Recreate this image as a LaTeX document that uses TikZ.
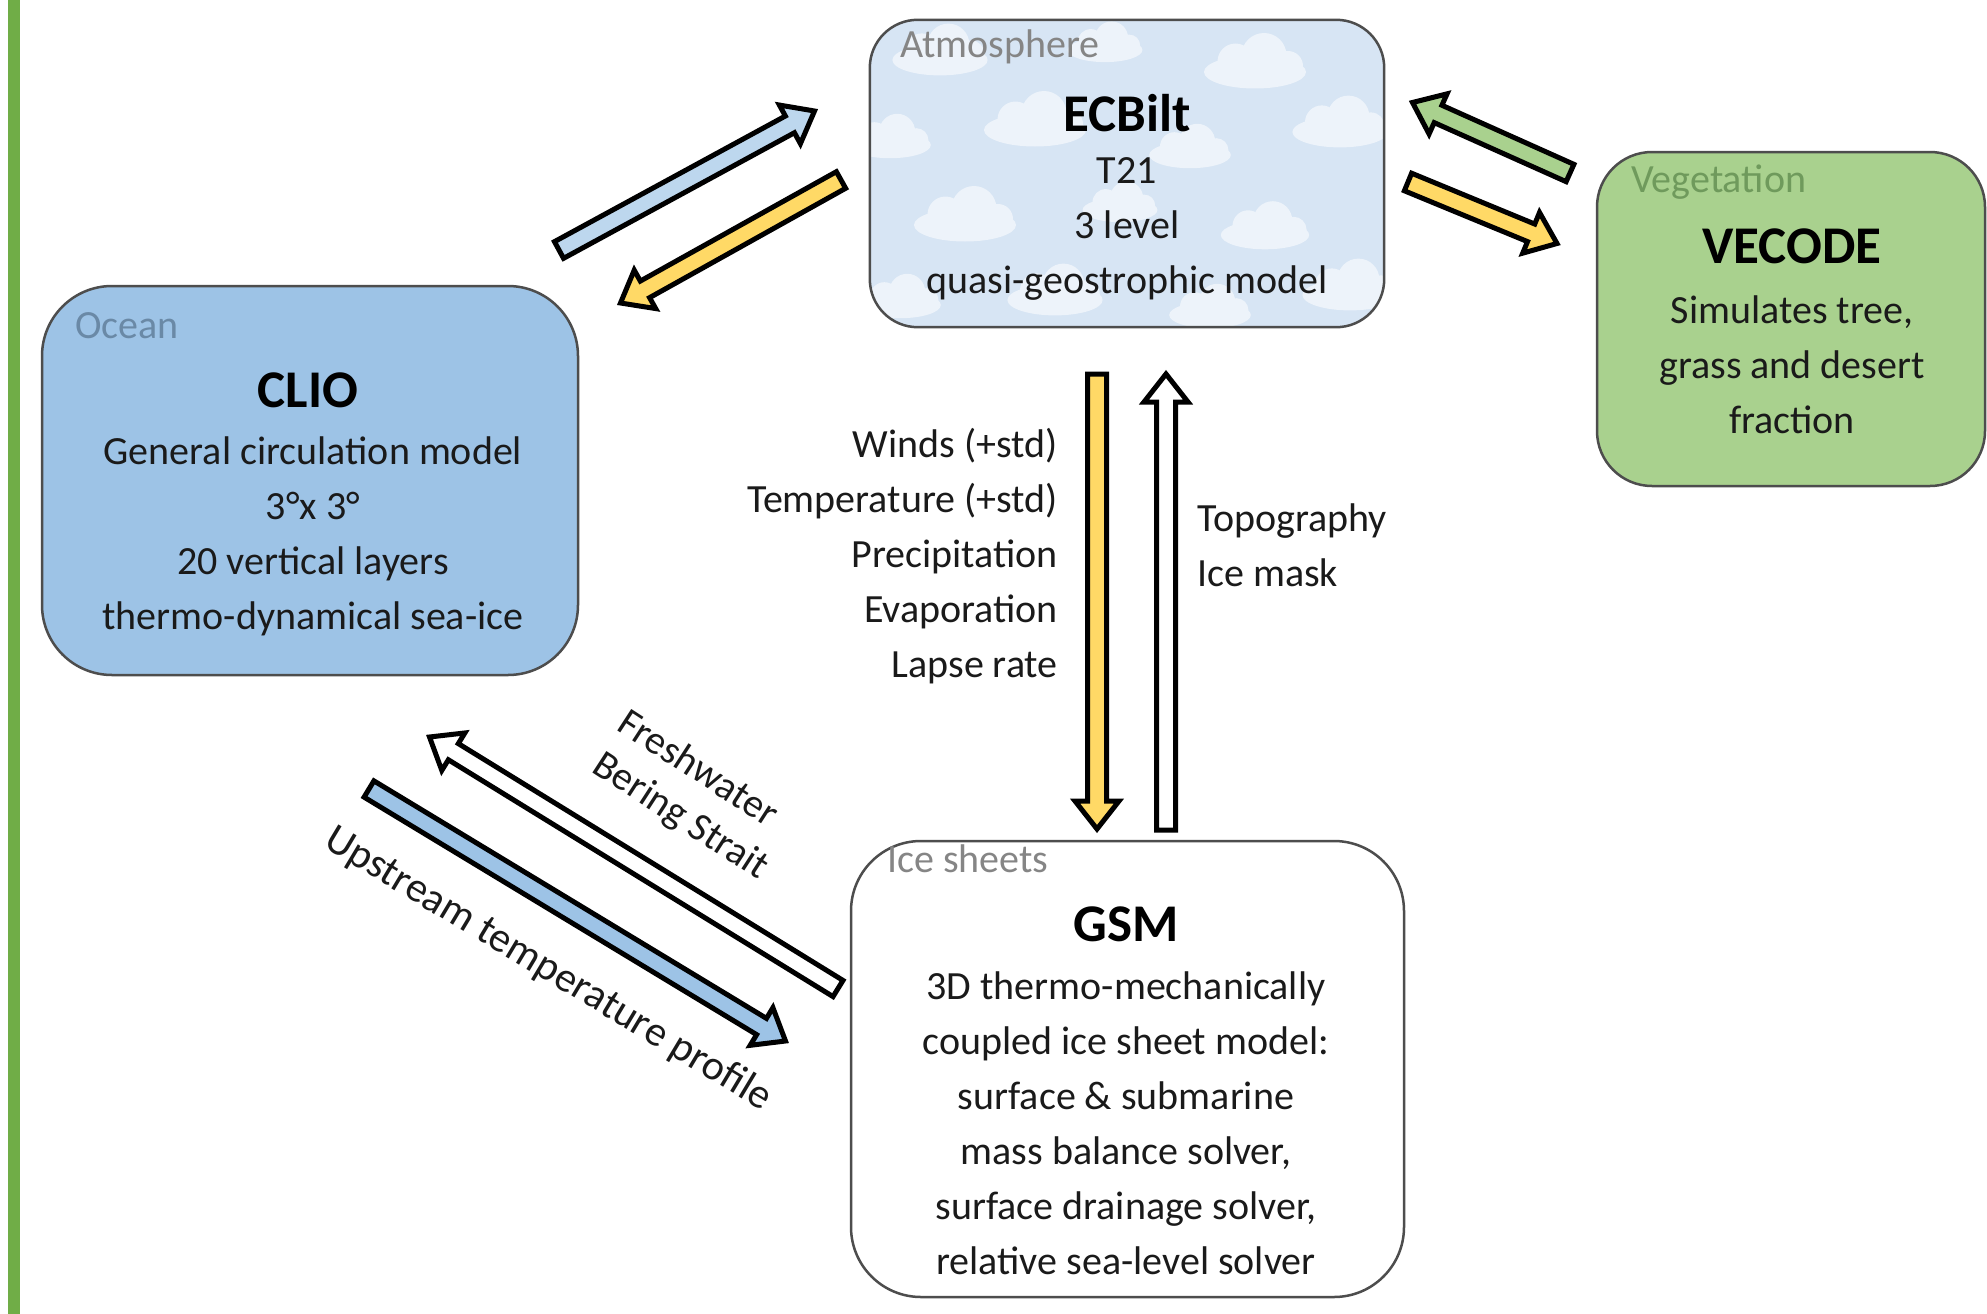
\documentclass[tikz,border=0pt]{standalone}
\usepackage{fontspec}
\setmainfont{Carlito}
\usetikzlibrary{calc}
\definecolor{bargreen}{HTML}{70AD47}
\definecolor{oceanfill}{HTML}{9DC3E6}
\definecolor{vegfill}{HTML}{A9D18E}
\definecolor{atmfill}{HTML}{D7E5F4}
\definecolor{cloudc}{HTML}{EDF3FA}
\definecolor{boxline}{HTML}{4D4D4D}
\definecolor{arryellow}{HTML}{FFD966}
\definecolor{arrblue}{HTML}{BDD7EE}
\definecolor{arrbluetwo}{HTML}{9DC3E6}
\definecolor{arrgreen}{HTML}{A9D18E}
\definecolor{oceanlbl}{HTML}{6A89A6}
\definecolor{veglbl}{HTML}{6F9A5C}
\definecolor{graylbl}{HTML}{858585}
\definecolor{txt}{HTML}{1A1A1A}
\tikzset{
  modelbox/.style={draw=boxline, line width=2.5pt, inner sep=0pt},
  boxlabel/.style={anchor=west, inner sep=0pt, font=\fontsize{40}{48}\selectfont},
  titletext/.style={inner sep=0pt, font=\fontsize{53}{60}\selectfont\bfseries, text=black},
  bodytext/.style={inner sep=0pt, align=center, font=\fontsize{40}{55}\selectfont, text=txt},
  flowtext/.style={inner sep=0pt, font=\fontsize{40}{55}\selectfont, text=txt},
  blockarr/.style={draw=black, line width=5pt, line join=miter, miter limit=10},
}
\newcommand\blockarrow[3]{%
  \coordinate (#1-#2-h) at ($(#2)!28pt!(#1)$);
  \draw[blockarr, fill=#3]
    ($(#1)!9.5pt!90:(#2)$) -- ($(#1-#2-h)!9.5pt!90:(#2)$) -- ($(#1-#2-h)!22pt!90:(#2)$) -- (#2)
    -- ($(#1-#2-h)!22pt!-90:(#2)$) -- ($(#1-#2-h)!9.5pt!-90:(#2)$) -- ($(#1)!9.5pt!-90:(#2)$) -- cycle;}
\newcommand\atmcloud[3]{%
  \fill[cloudc] (870+#1,20+#2) ellipse [x radius=#3*34pt, y radius=#3*11pt];
  \fill[cloudc] (870+#1-#3*13,20+#2-#3*7) circle [radius=#3*12pt];
  \fill[cloudc] (870+#1+#3*6,20+#2-#3*11) circle [radius=#3*15pt];
  \fill[cloudc] (870+#1+#3*22,20+#2-#3*4) circle [radius=#3*10pt];}
\begin{document}
\begin{tikzpicture}[x=1pt,y=-1pt]
\useasboundingbox (0,0) rectangle (1987,1314);
\fill[white] (0,0) rectangle (1987,1314);
\fill[bargreen] (8,0) rectangle (20,1314);

% atmosphere box with clouds
\node[fill=atmfill, inner sep=0pt, rounded corners=48pt, minimum width=514pt, minimum height=307pt] (atm) at (1127,173.5) {};
\begin{scope}
  \clip[rounded corners=48pt] (atm.south west) rectangle (atm.north east);
  \atmcloud{70}{40}{1.4}\atmcloud{235}{30}{1.1}\atmcloud{385}{52}{1.5}
  \atmcloud{20}{125}{1.2}\atmcloud{165}{110}{1.5}\atmcloud{320}{135}{1.2}\atmcloud{470}{112}{1.4}
  \atmcloud{95}{205}{1.5}\atmcloud{250}{190}{1.1}\atmcloud{395}{215}{1.3}
  \atmcloud{30}{285}{1.2}\atmcloud{185}{280}{1.4}\atmcloud{340}{295}{1.2}\atmcloud{480}{275}{1.4}
\end{scope}
\draw[draw=boxline, line width=2.5pt, rounded corners=48pt] (atm.south west) rectangle (atm.north east);

% other boxes
\node[modelbox, fill=oceanfill, rounded corners=70pt, minimum width=536pt, minimum height=389pt] (ocean) at (310,480.5) {};
\node[modelbox, fill=vegfill, rounded corners=55pt, minimum width=388pt, minimum height=334pt] (veg) at (1791,319) {};
\node[modelbox, fill=white, rounded corners=70pt, minimum width=553pt, minimum height=456pt] (ice) at (1127.5,1069) {};

% box labels
\node[boxlabel, text=graylbl] (atmlbl) at (900,47) {Atmosphere};
\node[boxlabel, text=oceanlbl] (oceanlbl) at (75,326) {Ocean};
\node[boxlabel, text=veglbl] (veglbl) at (1631,182) {Vegetation};
\node[boxlabel, text=graylbl] (icelbl) at (887,859) {Ice sheets};

% titles
\node[titletext] (atmtitle) at (1127,113) {ECBilt};
\node[titletext] (oceantitle) at (308,390) {CLIO};
\node[titletext] (vegtitle) at (1792,246) {VECODE};
\node[titletext] (icetitle) at (1126,924) {GSM};

% body texts
\node[bodytext] (atmbody) at (1127,229) {T21\\3 level\\quasi-geostrophic model};
\node[bodytext] (oceanbody) at (313,536) {General circulation model\\3°x 3°\\20 vertical layers\\thermo-dynamical sea-ice};
\node[bodytext] (vegbody) at (1792,365) {Simulates tree,\\grass and desert\\fraction};
\node[bodytext] (icebody) at (1126,1123.5) {3D thermo-mechanically\\coupled ice sheet model:\\surface \& submarine\\mass balance solver,\\surface drainage solver,\\relative sea-level solver};

% arrow end points
\coordinate (oa-t) at (559,250);   \coordinate (oa-h) at (814.5,111);
\coordinate (ao-t) at (841,180);   \coordinate (ao-h) at (620.5,303);
\coordinate (va-t) at (1570,173);  \coordinate (va-h) at (1412.5,102.5);
\coordinate (av-t) at (1408,182);  \coordinate (av-h) at (1557,243.5);
\coordinate (ai-t) at (1097,374);  \coordinate (ai-h) at (1097,829);
\coordinate (ia-t) at (1166,830);  \coordinate (ia-h) at (1166,374);
\coordinate (io-t) at (838,988.5); \coordinate (io-h) at (429.5,737);
\coordinate (oi-t) at (369,789);   \coordinate (oi-h) at (785.5,1041);

\blockarrow{oa-t}{oa-h}{arrblue}
\blockarrow{ao-t}{ao-h}{arryellow}
\blockarrow{va-t}{va-h}{arrgreen}
\blockarrow{av-t}{av-h}{arryellow}
\blockarrow{ai-t}{ai-h}{arryellow}
\blockarrow{ia-t}{ia-h}{white}
\blockarrow{io-t}{io-h}{white}
\blockarrow{oi-t}{oi-h}{arrbluetwo}

% flow labels
\node[flowtext, align=right, anchor=east] (downlbl) at (1058,556) {Winds (+std)\\Temperature (+std)\\Precipitation\\Evaporation\\Lapse rate};
\node[flowtext, align=left, anchor=west] (uplbl) at (1197,545.5) {Topography\\Ice mask};
\node[flowtext, rotate=-33] (fwlbl) at (699,767) {Freshwater};
\node[flowtext, rotate=-33] (bslbl) at (680,817) {Bering Strait};
\node[flowtext, rotate=-31, font=\fontsize{42}{50}\selectfont] (uslbl) at (548,969) {Upstream temperature profile};
\end{tikzpicture}
\end{document}
